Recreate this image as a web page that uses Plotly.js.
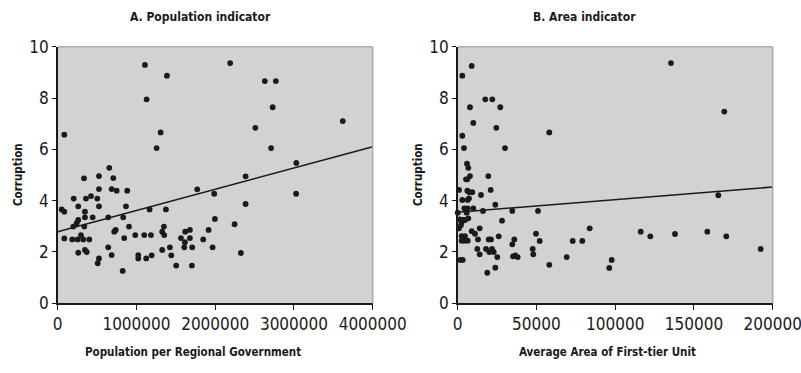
<!DOCTYPE html>
<html>
<head>
<meta charset="utf-8">
<script src="https://cdn.plot.ly/plotly-3.0.1.min.js"></script>
<style>html,body{margin:0;padding:0;background:#fff}#chart{width:801px;height:373px}</style>
</head>
<body>
<div id="chart"></div>
<script>
// Panel A: population per regional government vs corruption
const popX = [1108000,1387000,1129000,84000,1307000,1256000,655000,2190000,2630000,2770000,2730000,2510000,3620000,2710000,3030000,
  334000,524000,706000,203000,524000,685000,749000,883000,359000,423000,503000,261000,524000,867000,51000,84000,346000,346000,444000,
  642000,832000,1167000,1374000,261000,241000,198000,338000,905000,1349000,736000,718000,1327000,985000,1099000,1184000,1353000,
  1619000,1679000,296000,84000,185000,254000,325000,401000,845000,1565000,1679000,1848000,1615000,642000,1425000,1607000,1708000,
  346000,368000,261000,1327000,685000,1023000,1023000,1124000,1193000,1442000,524000,508000,1505000,1704000,825000,1772000,
  2386000,1987000,3028000,2386000,1996000,2246000,1916000,1967000,2326000];
const popY = [9.29,8.87,7.95,6.57,6.66,6.05,5.28,9.36,8.66,8.66,7.64,6.84,7.10,6.05,5.47,
  4.87,4.96,4.88,4.08,4.45,4.45,4.39,4.39,4.08,4.18,4.08,3.78,3.78,3.78,3.66,3.57,3.57,3.35,3.35,
  3.35,3.35,3.66,3.66,3.25,3.12,2.99,2.99,2.99,2.99,2.86,2.79,2.79,2.66,2.66,2.66,2.66,
  2.79,2.86,2.66,2.53,2.49,2.49,2.49,2.49,2.54,2.54,2.54,2.49,2.38,2.18,2.18,2.18,2.18,
  2.08,2.00,1.97,2.08,1.88,1.88,1.75,1.75,1.87,1.87,1.75,1.56,1.47,1.47,1.26,4.44,
  4.95,4.27,4.27,3.87,3.29,3.08,2.86,2.18,1.96];
const popTrendX = [0, 4000000];
const popTrendY = [2.79, 6.10];

// Panel B: average area of first-tier unit vs corruption
const areaX = [8889,2921,17523,21968,7809,27047,9905,24507,58157,2921,4000,30031,5905,6730,7809,19428,5270,6100,825,6095,
  7365,9270,14793,20952,2921,6349,7175,23872,0,4190,6349,9905,5714,16063,34666,50983,1270,2540,3556,4635,6730,28126,
  825,2095,13968,8889,10984,2540,4190,2540,6349,4635,12889,19683,21142,26031,35936,49713,52062,73016,34666,12444,
  17968,21777,22857,20063,13968,25142,35111,36571,38095,47618,48000,58157,69205,1651,3175,23872,18793,79111,83810,
  97778,96254,116190,122286,137968,135428,169270,165460,158476,170540,192381];
const areaY = [9.25,8.87,7.95,7.95,7.64,7.64,7.03,6.84,6.66,6.53,6.05,6.05,5.44,5.28,4.96,4.96,4.83,4.83,4.42,4.39,
  4.33,4.33,4.22,4.42,4.03,4.03,4.09,3.84,3.53,3.70,3.70,3.70,3.53,3.60,3.60,3.60,3.27,3.17,3.25,3.25,3.31,3.22,
  2.92,3.05,2.92,2.81,2.71,2.62,2.44,2.44,2.44,2.62,2.49,2.49,2.49,2.61,2.49,2.71,2.43,2.43,2.30,2.12,
  2.12,2.12,2.00,2.00,1.91,1.80,1.83,1.87,1.80,2.12,1.91,1.50,1.80,1.69,1.69,1.39,1.19,2.43,2.92,
  1.69,1.38,2.79,2.61,2.70,9.36,7.47,4.21,2.79,2.61,2.12];
const areaTrendX = [0, 200000];
const areaTrendY = [3.55, 4.53];

const yTicks = [0, 2, 4, 6, 8, 10];
const popTicks = [0, 1000000, 2000000, 3000000, 4000000];
const popTickText = ['0', '1000000', '2000000', '3000000', '4000000'];
const areaTicks = [0, 50000, 100000, 150000, 200000];
const areaTickText = ['0', '50000', '100000', '150000', '200000'];

const FONT = '"Liberation Sans Narrow", "DejaVu Sans Condensed", "Arial Narrow", sans-serif';
const W = 801, H = 373;
const dom1 = [57.7 / W, 372.7 / W];
const dom2 = [457.7 / W, 772.7 / W];
const ydom = [1 - 303.3 / H, 1 - 46.7 / H];

const mk = {color: '#1a1a1a', size: 5.8};
const traces = [
  {x: popX, y: popY, type: 'scatter', mode: 'markers', marker: mk, xaxis: 'x', yaxis: 'y', cliponaxis: false},
  {x: popTrendX, y: popTrendY, type: 'scatter', mode: 'lines', line: {color: '#1a1a1a', width: 1.6}, xaxis: 'x', yaxis: 'y'},
  {x: areaX, y: areaY, type: 'scatter', mode: 'markers', marker: mk, xaxis: 'x2', yaxis: 'y2', cliponaxis: false},
  {x: areaTrendX, y: areaTrendY, type: 'scatter', mode: 'lines', line: {color: '#1a1a1a', width: 1.6}, xaxis: 'x2', yaxis: 'y2'}
];

const tickFont = {family: FONT, size: 17, color: '#1a1a1a'};
const titleFont = {family: FONT, size: 12, color: '#1a1a1a', weight: 'bold'};
const axTitleFont = {family: FONT, size: 11.5, color: '#1a1a1a', weight: 'bold'};
function xax(dom, range, vals, text, anchor) {
  return {domain: dom, range: range, anchor: anchor, tickmode: 'array', tickvals: vals, ticktext: text,
    ticks: 'outside', ticklen: 5, tickwidth: 1, tickcolor: '#1a1a1a', showgrid: false, zeroline: false,
    showline: true, linecolor: '#1a1a1a', linewidth: 1.5, tickfont: tickFont, fixedrange: true,
    ticklabeloverflow: 'allow'};
}
function yax(range, anchor) {
  return {domain: ydom, range: range, anchor: anchor, tickmode: 'array', tickvals: yTicks,
    ticks: 'outside', ticklen: 4, tickwidth: 1, tickcolor: '#1a1a1a', showgrid: false, zeroline: false,
    showline: true, linecolor: '#1a1a1a', linewidth: 1.5, tickfont: tickFont, fixedrange: true};
}

function frame(xr, yr) {
  return [
    {type: 'line', xref: xr + ' domain', yref: yr + ' domain', x0: 0, x1: 1, y0: 1, y1: 1, line: {color: '#ababab', width: 1.5}},
    {type: 'line', xref: xr + ' domain', yref: yr + ' domain', x0: 1, x1: 1, y0: 0, y1: 1, line: {color: '#ababab', width: 1.5}}
  ];
}

function label(text, px, py, font, angle) {
  return {text: text, xref: 'paper', yref: 'paper', x: px / W, y: 1 - py / H, showarrow: false,
    font: font, xanchor: 'center', yanchor: 'middle', textangle: angle || 0};
}

const layout = {
  width: W, height: H, margin: {l: 0, r: 0, t: 0, b: 0},
  paper_bgcolor: '#ffffff', plot_bgcolor: '#d1d2d4', showlegend: false,
  font: {family: FONT, color: '#1a1a1a'},
  xaxis: xax(dom1, [0, 4000000], popTicks, popTickText, 'y'),
  yaxis: yax([0, 10], 'x'),
  xaxis2: xax(dom2, [0, 200000], areaTicks, areaTickText, 'y2'),
  yaxis2: yax([0, 10], 'x2'),
  shapes: frame('x', 'y').concat(frame('x2', 'y2')),
  annotations: [
    label('A. Population indicator', 200, 17, titleFont),
    label('B. Area indicator', 584, 17, titleFont),
    label('Population per Regional Government', 193, 352, axTitleFont),
    label('Average Area of First-tier Unit', 607, 352, axTitleFont),
    label('Corruption', 18, 175, axTitleFont, -90),
    label('Corruption', 418, 175, axTitleFont, -90)
  ]
};

Plotly.newPlot('chart', traces, layout, {displayModeBar: false, staticPlot: true});
</script>
</body>
</html>
